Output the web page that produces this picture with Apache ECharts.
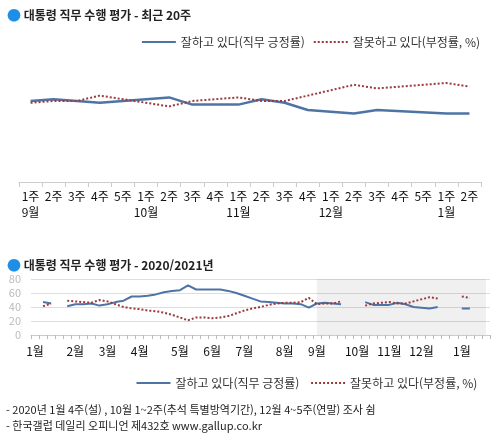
<!DOCTYPE html>
<html lang="ko">
<head>
<meta charset="UTF-8" />
<title>대통령 직무 수행 평가</title>
<style>
  * { margin: 0; padding: 0; box-sizing: border-box; }
  body { background: #fff; }
  #chart { width: 495px; height: 436px; }
</style>
</head>
<body>
<div id="chart"></div>
<script src="https://cdn.jsdelivr.net/npm/echarts@6/dist/echarts.min.js"></script>
<script>
// 최근 20주
const recentWeeks = ['1주\n9월', '2주', '3주', '4주', '5주', '1주\n10월', '2주', '3주', '4주',
  '1주\n11월', '2주', '3주', '4주', '1주\n12월', '2주', '3주', '4주', '5주', '1주\n1월', '2주']
const recentPos = [45, 46, 45, 44, null, null, 47, 43, 43, 43, 46, 44, 40, 39, 38, 40, null, null, 38, 38]
const recentNeg = [44, 45, 45, 48, null, null, 42, 45, 46, 47, 45, 45, 48, 51, 54, 52, null, null, 55, 53]

// 2020년 1월 ~ 8월 (주별)
const earlyPos = [null, 47, 45, null, 41, 44, 44, 45, 42, 44, 47, 49, 55, 55, 56, 58, 61, 63, 64, 71,
  65, 65, 65, 65, 63, 60, 56, 52, 48, 47, 46, 45, 45, 44, 39]
const earlyNeg = [null, 41, 45, null, 49, 48, 47, 46, 50, 48, 44, 40, 38, 37, 35, 34, 32, 29, 25, 21,
  25, 25, 24, 25, 27, 31, 35, 38, 40, 43, 45, 46, 46, 47, 53]
// 월별 주 수 (2020.1 ~ 2021.1)
const monthNames = ['1월', '2월', '3월', '4월', '5월', '6월', '7월', '8월', '9월', '10월', '11월', '12월', '1월']
const monthWeeks = [5, 4, 4, 5, 4, 4, 5, 4, 5, 4, 4, 5, 4]

const yearWeeks = []
monthWeeks.forEach((n, m) => {
  for (let w = 0; w < n; w++) yearWeeks.push(w === 0 ? monthNames[m] : '')
})
const yearIds = yearWeeks.map((_, i) => 'w' + i)
const yearPos = earlyPos.concat(recentPos)
const yearNeg = earlyNeg.concat(recentNeg)

const BLUE = '#4e74a6'
const RED = '#9a3b3b'
const FONT = '"Noto Sans CJK KR", sans-serif'

function labelPos(a, b) {
  return a.map((v, i) => ({
    value: v,
    label: { position: v >= b[i] ? 'top' : 'bottom' }
  }))
}

const legendBase = {
  right: 10, itemWidth: 34, itemHeight: 8, itemGap: 8,
  itemStyle: { opacity: 0 },
  textStyle: { fontSize: 12, color: '#333' }
}

const chart = echarts.init(document.getElementById('chart'))
chart.setOption({
  animation: false,
  textStyle: { fontFamily: FONT },
  title: [
    {
      text: '{dot|●} 대통령 직무 수행 평가 - 최근 20주', left: 2, top: 3,
      textStyle: { fontSize: 12, fontWeight: 'bold', color: '#222', fontFamily: FONT,
        rich: { dot: { color: '#1e8fe6', fontSize: 14 } } }
    },
    {
      text: '{dot|●} 대통령 직무 수행 평가 - 2020/2021년', left: 2, top: 253,
      textStyle: { fontSize: 12, fontWeight: 'bold', color: '#222', fontFamily: FONT,
        rich: { dot: { color: '#1e8fe6', fontSize: 14 } } }
    }
  ],
  legend: [
    Object.assign({ top: 31, data: ['잘하고 있다(직무 긍정률)', '잘못하고 있다(부정률, %)'] }, legendBase),
    Object.assign({ top: 372, data: ['잘하고 있다(직무 긍정률) ', '잘못하고 있다(부정률, %) '] }, legendBase)
  ],
  grid: [
    { left: 19, right: 14, top: 38, height: 144 },
    { left: 31, right: 5, top: 279, height: 56 }
  ],
  xAxis: [
    {
      gridIndex: 0, type: 'category', data: recentWeeks, boundaryGap: true,
      axisLine: { lineStyle: { color: '#ccc' } },
      axisTick: { show: true, length: 5, lineStyle: { color: '#ccc' } },
      axisLabel: { color: '#111', fontSize: 12, interval: 0, lineHeight: 16, margin: 6 }
    },
    {
      gridIndex: 1, type: 'category', data: yearIds, boundaryGap: true,
      axisLine: { lineStyle: { color: '#ccc' } },
      axisTick: { show: true, interval: 0, length: 4, lineStyle: { color: '#bbb' } },
      axisLabel: { color: '#111', fontSize: 12, interval: 0, margin: 10,
        formatter: (v, i) => yearWeeks[i] }
    }
  ],
  yAxis: [
    { gridIndex: 0, type: 'value', min: 0, max: 80, show: false, splitLine: { show: false } },
    {
      gridIndex: 1, type: 'value', min: 0, max: 80, interval: 20,
      axisLine: { show: false }, axisTick: { show: false },
      axisLabel: { color: '#bbb', fontSize: 11, margin: 10 },
      splitLine: { lineStyle: { color: '#ddd' } }
    }
  ],
  series: [
    {
      name: '잘하고 있다(직무 긍정률)', type: 'line', xAxisIndex: 0, yAxisIndex: 0,
      data: labelPos(recentPos, recentNeg), connectNulls: true,
      symbol: 'circle', symbolSize: 1, showSymbol: true,
      lineStyle: { color: BLUE, width: 2.5 }, itemStyle: { color: BLUE, opacity: 0 },
      label: { show: true, color: '#5d7ea8', fontSize: 13, distance: 5 }
    },
    {
      name: '잘못하고 있다(부정률, %)', type: 'line', xAxisIndex: 0, yAxisIndex: 0,
      data: labelPos(recentNeg, recentPos), connectNulls: true,
      symbol: 'circle', symbolSize: 1, showSymbol: true,
      lineStyle: { color: RED, width: 2, type: 'dotted' }, itemStyle: { color: RED, opacity: 0 },
      label: { show: true, color: '#111', fontSize: 13, distance: 5 }
    },
    {
      name: '잘하고 있다(직무 긍정률) ', type: 'line', xAxisIndex: 1, yAxisIndex: 1,
      data: yearPos, connectNulls: false, symbol: 'none',
      lineStyle: { color: BLUE, width: 2 }, itemStyle: { color: BLUE },
      markArea: {
        silent: true,
        itemStyle: { color: 'rgba(0,0,0,0.06)' },
        data: [[{ xAxis: 'w35' }, { xAxis: 'w56' }]]
      }
    },
    {
      name: '잘못하고 있다(부정률, %) ', type: 'line', xAxisIndex: 1, yAxisIndex: 1,
      data: yearNeg, connectNulls: false, symbol: 'none',
      lineStyle: { color: RED, width: 2, type: 'dotted' }, itemStyle: { color: RED }
    }
  ],
  graphic: [
    { type: 'text', left: 6, top: 404,
      style: { text: '- 2020년 1월 4주(설) , 10월 1~2주(추석 특별방역기간), 12월 4~5주(연말) 조사 쉼', fill: '#222', font: '11px ' + FONT } },
    { type: 'text', left: 6, top: 420,
      style: { text: '- 한국갤럽 데일리 오피니언 제432호 www.gallup.co.kr', fill: '#222', font: '11px ' + FONT } }
  ]
})
</script>
</body>
</html>
